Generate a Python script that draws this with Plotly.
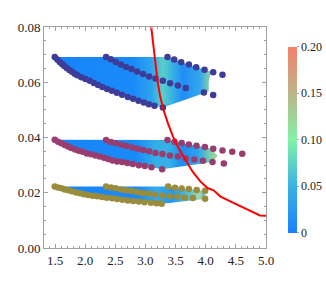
import plotly.graph_objects as go

# ---------------- data ----------------
# top band (blue points)
top_a_x = [1.495, 1.538, 1.578, 1.616, 1.655, 1.694, 1.738, 1.782, 1.827, 1.871, 1.937, 2.004, 2.076,
           2.143, 2.214, 2.286, 2.364, 2.442, 2.525, 2.613, 2.708, 2.796, 2.884, 2.973, 3.056, 3.150, 3.289]
top_a_y = [0.0691, 0.0682, 0.0673, 0.0666, 0.0659, 0.0652, 0.0644, 0.0638, 0.0631, 0.0625, 0.0618, 0.0612, 0.0605,
           0.0597, 0.0590, 0.0583, 0.0576, 0.0569, 0.0562, 0.0555, 0.0547, 0.0540, 0.0533, 0.0527, 0.0520, 0.0515, 0.0509]
top_b_x = [2.347, 2.425, 2.508, 2.591, 2.680, 2.768, 2.862, 2.960, 3.060, 3.167, 3.289, 3.410, 3.538, 3.670, 3.970, 4.124]
top_b_y = [0.0691, 0.0683, 0.0673, 0.0664, 0.0655, 0.0648, 0.0639, 0.0630, 0.0621, 0.0614, 0.0605, 0.0596, 0.0588, 0.0579, 0.0563, 0.0554]
top_c_x = [3.366, 3.477, 3.593, 3.721, 3.842, 3.980, 4.124, 4.278]
top_c_y = [0.0691, 0.0682, 0.0672, 0.0664, 0.0654, 0.0645, 0.0636, 0.0627]
top_edge_x = [3.970, 4.050, 4.050, 4.090]
top_edge_y = [0.0560, 0.0567, 0.0602, 0.0638]

# middle band (purple points)
mid_a_x = [1.495, 1.550, 1.605, 1.661, 1.716, 1.771, 1.832, 1.894, 1.960, 2.027, 2.098, 2.170, 2.242,
           2.314, 2.380, 2.452, 2.530, 2.613, 2.700, 2.790, 2.890, 2.990, 3.100, 3.277]
mid_a_y = [0.0392, 0.0385, 0.0379, 0.0373, 0.0367, 0.0362, 0.0357, 0.0352, 0.0348, 0.0342, 0.0339, 0.0335, 0.0331,
           0.0327, 0.0322, 0.0317, 0.0313, 0.0311, 0.0308, 0.0304, 0.0300, 0.0297, 0.0292, 0.0285]
mid_b_x = [2.347, 2.425, 2.508, 2.600, 2.690, 2.783, 2.872, 2.962, 3.062, 3.167, 3.283, 3.405, 3.538, 3.670, 3.810, 3.953, 4.113, 4.300]
mid_b_y = [0.0391, 0.0384, 0.0379, 0.0374, 0.0369, 0.0364, 0.0359, 0.0355, 0.0350, 0.0344, 0.0340, 0.0335, 0.0331, 0.0324, 0.0320, 0.0316, 0.0311, 0.0306]
mid_c_x = [3.366, 3.483, 3.600, 3.720, 3.847, 3.986, 4.124, 4.278, 4.440, 4.606]
mid_c_y = [0.0391, 0.0385, 0.0380, 0.0375, 0.0370, 0.0366, 0.0359, 0.0353, 0.0348, 0.0341]
mid_edge_x = [4.113, 4.200, 4.060]
mid_edge_y = [0.0311, 0.0334, 0.0362]

# bottom band (olive points)
bot_a_x = [1.495, 1.550, 1.605, 1.660, 1.720, 1.780, 1.850, 1.915, 1.980, 2.050, 2.126, 2.200,
           2.280, 2.360, 2.447, 2.530, 2.618, 2.707, 2.796, 2.890, 2.984, 3.090, 3.180, 3.270]
bot_a_y = [0.0223, 0.0219, 0.0216, 0.0212, 0.0209, 0.0205, 0.0201, 0.0198, 0.0195, 0.0192, 0.0189, 0.0187,
           0.0185, 0.0182, 0.0180, 0.0177, 0.0175, 0.0172, 0.0170, 0.0168, 0.0166, 0.0164, 0.0162, 0.0160]
bot_b_x = [2.347, 2.430, 2.508, 2.596, 2.680, 2.768, 2.857, 2.950, 3.056, 3.160, 3.280, 3.405, 3.530, 3.654, 3.787, 3.990]
bot_b_y = [0.0223, 0.0219, 0.0216, 0.0212, 0.0209, 0.0206, 0.0203, 0.0199, 0.0197, 0.0194, 0.0190, 0.0187, 0.0186, 0.0183, 0.0181, 0.0178]
bot_c_x = [3.377, 3.490, 3.600, 3.720, 3.850, 3.990]
bot_c_y = [0.0223, 0.0218, 0.0215, 0.0214, 0.0210, 0.0207]
bot_edge_x = [3.990, 4.000]
bot_edge_y = [0.0177, 0.0205]

# red curve
red_x = [3.095, 3.133, 3.172, 3.205, 3.244, 3.300, 3.372, 3.455, 3.548, 3.660, 3.780, 3.910,
         4.030, 4.130, 4.240, 4.460, 4.680, 4.900, 5.000]
red_y = [0.0802, 0.0730, 0.0657, 0.0597, 0.0549, 0.0500, 0.0452, 0.0404, 0.0362, 0.0320, 0.0277, 0.0241,
         0.0217, 0.0209, 0.0187, 0.0163, 0.0139, 0.0118, 0.0117]

# colour bar
cbar_vals = [0, 0.05, 0.10, 0.15, 0.20]
cbar_text = ["0", "0.05", "0.10", "0.15", "0.20"]

# ---------------- styles ----------------
CSCALE = [[0, "#1a80ff"], [0.25, "#38b2e2"], [0.5, "#82f2a8"], [0.75, "#bcb48a"], [1, "#f5816a"]]
FONT = "Liberation Serif, Times New Roman, serif"
COL_TOP, COL_MID, COL_BOT = "#3d3d99", "#993d70", "#998c3d"

fig = go.Figure()


def band_fill(ax, ay, ex, ey, cx, cy, stops):
    px = list(ax) + list(ex) + list(cx[::-1]) + [ax[0]]
    py = list(ay) + list(ey) + list(cy[::-1]) + [ay[0]]
    fig.add_trace(go.Scatter(x=px, y=py, mode="lines", line=dict(width=0), fill="toself",
                             fillgradient=dict(type="horizontal", colorscale=stops),
                             hoverinfo="skip", showlegend=False))


band_fill(top_a_x, top_a_y, top_edge_x, top_edge_y, top_c_x[:6], top_c_y[:6],
          [[0, "#1684fa"], [0.5, "#1a8af8"], [0.62, "#2ea4ee"], [0.69, "#5ccfc8"], [0.74, "#3eb8e0"],
           [0.82, "#1e8ef6"], [0.93, "#34a8ec"], [1, "#94d6a0"]])
band_fill(mid_a_x, mid_a_y, mid_edge_x, mid_edge_y, mid_c_x[:6], mid_c_y[:6],
          [[0, "#1684fa"], [0.5, "#1a8af8"], [0.62, "#34b0e6"], [0.7, "#36b0e6"], [0.78, "#1c8cf6"],
           [0.88, "#2ea4ee"], [0.96, "#80d2a8"], [1, "#a8d894"]])
band_fill(bot_a_x, bot_a_y, bot_edge_x, bot_edge_y, bot_c_x, bot_c_y,
          [[0, "#1684fa"], [0.55, "#1a8af8"], [0.68, "#34ace8"], [0.78, "#2294f2"], [0.9, "#5cc4d0"],
           [0.96, "#a8d8a4"], [1, "#50b8e2"]])

for xs, ys, col in [(top_a_x, top_a_y, COL_TOP), (top_b_x, top_b_y, COL_TOP), (top_c_x, top_c_y, COL_TOP),
                    (mid_a_x, mid_a_y, COL_MID), (mid_b_x, mid_b_y, COL_MID), (mid_c_x, mid_c_y, COL_MID),
                    (bot_a_x, bot_a_y, COL_BOT), (bot_b_x, bot_b_y, COL_BOT), (bot_c_x, bot_c_y, COL_BOT)]:
    fig.add_trace(go.Scatter(x=xs, y=ys, mode="markers", marker=dict(size=6.5, color=col, line=dict(width=0)),
                             hoverinfo="skip", showlegend=False))

fig.add_trace(go.Scatter(x=red_x, y=red_y, mode="lines", line=dict(color="#ff0000", width=2),
                         hoverinfo="skip", showlegend=False))

# invisible trace carrying the colour bar
fig.add_trace(go.Scatter(x=[None], y=[None], mode="markers", hoverinfo="skip", showlegend=False,
                         marker=dict(color=[0], cmin=0, cmax=0.2, colorscale=CSCALE, showscale=True,
                                     colorbar=dict(x=1.099, xanchor="left", xpad=0, thickness=9,
                                                   lenmode="pixels", len=206, y=0.49, yanchor="middle",
                                                   outlinewidth=0, tickvals=cbar_vals, ticktext=cbar_text,
                                                   ticks="outside", ticklen=2, tickcolor="#aaaaaa",
                                                   tickfont=dict(family=FONT, size=12, color="#222222")))))

axis_common = dict(showline=True, linecolor="#a0a0a0", linewidth=1, mirror="allticks", ticks="inside",
                   tickcolor="#a0a0a0", showgrid=False, zeroline=False,
                   tickfont=dict(family=FONT, size=13, color="#222222"))
fig.update_xaxes(range=[1.317, 5.0], tickvals=[1.5, 2.0, 2.5, 3.0, 3.5, 4.0, 4.5, 5.0],
                 ticktext=["1.5", "2.0", "2.5", "3.0", "3.5", "4.0", "4.5", "5.0"], ticklen=4,
                 minor=dict(ticks="inside", dtick=0.1, tick0=1.5, ticklen=2, tickcolor="#a0a0a0"),
                 **axis_common)
fig.update_yaxes(range=[0, 0.08], tickvals=[0, 0.02, 0.04, 0.06, 0.08],
                 ticktext=["0.00", "0.02", "0.04", "0.06", "0.08"], ticklen=4,
                 minor=dict(ticks="inside", dtick=0.005, ticklen=2, tickcolor="#a0a0a0"),
                 **axis_common)

fig.update_layout(width=326, height=288,
                  margin=dict(l=44, r=60, t=27, b=40, autoexpand=False),
                  paper_bgcolor="white", plot_bgcolor="white",
                  font=dict(family=FONT))

fig.write_html("out.html", config={"displayModeBar": False},
               post_script="document.body.style.margin='0';document.body.style.padding='0';")
